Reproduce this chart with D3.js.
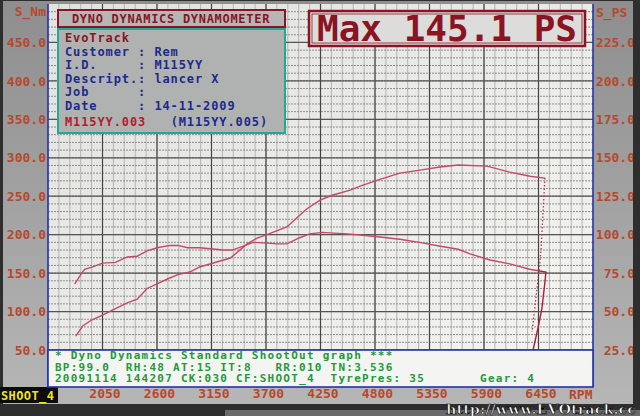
<!DOCTYPE html>
<html>
<head>
<meta charset="utf-8">
<script src="https://cdn.jsdelivr.net/npm/d3@7"></script>
<style>
  body { margin: 0; background: #333; }
  svg { display: block; }
  .mono { font-family: "DejaVu Sans Mono", monospace; font-weight: bold; }
</style>
</head>
<body>
<svg id="chart" width="640" height="416"></svg>
<script>
// values read from the dyno sheet
const rpmTicks = [2050, 2600, 3150, 3700, 4250, 4800, 5350, 5900, 6450];
const nmTicks = [50, 100, 150, 200, 250, 300, 350, 400, 450];
const psTicks = [25, 50, 75, 100, 125, 150, 175, 200, 225];

const torqueRpm = [1770, 1840, 1870, 1950, 2050, 2180, 2300, 2400, 2500, 2600, 2730, 2810, 2910, 3030, 3270, 3360, 3470, 3570, 3710, 3810, 3910, 4040, 4140, 4270, 4380, 4520, 4650, 4850, 5050, 5250, 5460, 5640, 5760, 5960, 6160, 6360, 6450];
const torqueNm = [136, 150, 155, 158, 163, 164, 171, 172, 179, 183, 186, 186, 183, 183, 180, 180, 185, 190, 189, 188, 188, 196, 201, 203, 202, 201, 199.5, 197, 194, 190, 185, 181, 175, 167, 162, 155, 153];

const powerRpm = [1780, 1850, 1940, 2055, 2150, 2300, 2400, 2500, 2600, 2700, 2810, 2930, 3030, 3340, 3510, 3610, 3710, 3910, 4010, 4110, 4245, 4375, 4550, 4650, 4850, 5050, 5255, 5455, 5640, 5930, 6160, 6365, 6515];
const powerPs = [34, 40.6, 44.5, 47.8, 51, 55.6, 58, 65, 68, 71, 74, 75.7, 79, 84.8, 94, 97.8, 100, 105, 110.8, 116.7, 122.5, 125.8, 129, 131.6, 136, 140, 142, 144, 145.3, 144.6, 140.7, 138, 136.8];

// run-down traces at the end of the pull
const torqueDownRpm = [6450, 6525, 6515, 6485, 6445, 6395];
const torqueDownNm = [153, 151.4, 138.4, 104.6, 78.6, 50];
const powerDownRpm = [6515, 6475, 6455, 6385];
const powerDownPs = [136.8, 90, 76.4, 36.7];

const infoLines = [
  ["EvoTrack", ""],
  ["Customer : ", "Rem"],
  ["I.D.     : ", "M115YY"],
  ["Descript.: ", "lancer X"],
  ["Job      : ", ""],
  ["Date     : ", "14-11-2009"]
];
const footLines = [
  "* Dyno Dynamics Standard ShootOut graph ***",
  "BP:99.0  RH:48 AT:15 IT:8   RR:010 TN:3.536",
  "20091114 144207 CK:030 CF:SHOOT_4  TyrePres: 35       Gear: 4"
];

// keep runs of spaces in svg text
const nb = s => s.replace(/ /g, '\u00a0');

const svg = d3.select('#chart');
const L = 48, R = 593, T = 4, B = 350;

const x = d3.scaleLinear().domain([1500, 7000]).range([L, R]);
const yNm = d3.scaleLinear().domain([50, 500]).range([B, T]);
const yPs = d3.scaleLinear().domain([25, 250]).range([B, T]);

const defs = svg.append('defs');
const grad = defs.append('linearGradient').attr('id', 'panel').attr('x1', 0).attr('y1', 0).attr('x2', 0).attr('y2', 1);
grad.append('stop').attr('offset', '0%').attr('stop-color', '#8e8e8e');
grad.append('stop').attr('offset', '100%').attr('stop-color', '#b6b6b6');
const pg = defs.append('linearGradient').attr('id', 'plotbg').attr('x1', 0).attr('y1', 0).attr('x2', 1).attr('y2', 1);
pg.append('stop').attr('offset', '0%').attr('stop-color', '#e2e2de');
pg.append('stop').attr('offset', '100%').attr('stop-color', '#f4f4f0');
defs.append('clipPath').attr('id', 'plotclip').append('rect')
  .attr('x', L).attr('y', T).attr('width', R - L).attr('height', B - T);
defs.append('clipPath').attr('id', 'screenclip').append('rect')
  .attr('x', 0).attr('y', 0).attr('width', 633).attr('height', 416);

// bezel + screen
svg.append('rect').attr('width', 640).attr('height', 416).attr('fill', '#2e2e2e');
svg.append('rect').attr('x', 3).attr('y', 1).attr('width', 630).attr('height', 403).attr('fill', 'url(#panel)');
svg.append('rect').attr('x', 225).attr('y', 410).attr('width', 415).attr('height', 6).attr('fill', '#6a6a6a');

// plot background
svg.append('rect').attr('x', L).attr('y', T).attr('width', R - L).attr('height', B - T + 37)
  .attr('fill', 'url(#plotbg)');

const grid = svg.append('g').attr('clip-path', 'url(#plotclip)');
grid.selectAll('.vminor').data(d3.range(1500, 7000, 110)).enter().append('line')
  .attr('x1', d => x(d)).attr('x2', d => x(d)).attr('y1', T).attr('y2', B)
  .attr('stroke', '#b4b4b4').attr('stroke-width', 1);
grid.selectAll('.hminor').data(d3.range(50, 500, 10)).enter().append('line')
  .attr('y1', d => yNm(d)).attr('y2', d => yNm(d)).attr('x1', L).attr('x2', R)
  .attr('stroke', '#8c8c8c').attr('stroke-width', 1).attr('stroke-dasharray', '2,1');
grid.selectAll('.vmajor').data(rpmTicks).enter().append('line')
  .attr('x1', d => x(d)).attr('x2', d => x(d)).attr('y1', T).attr('y2', B)
  .attr('stroke', '#444').attr('stroke-width', 1.2);
grid.selectAll('.hmajor').data(nmTicks).enter().append('line')
  .attr('y1', d => yNm(d)).attr('y2', d => yNm(d)).attr('x1', L).attr('x2', R)
  .attr('stroke', '#555').attr('stroke-width', 1.2);

// curves
const curves = svg.append('g').attr('clip-path', 'url(#plotclip)');
const lineNm = d3.line().x(d => x(d[0])).y(d => yNm(d[1]));
const linePs = d3.line().x(d => x(d[0])).y(d => yPs(d[1]));
const lc = '#c24a68';
curves.append('path').attr('d', lineNm(d3.zip(torqueRpm, torqueNm)))
  .attr('fill', 'none').attr('stroke', lc).attr('stroke-width', 1.4);
curves.append('path').attr('d', linePs(d3.zip(powerRpm, powerPs)))
  .attr('fill', 'none').attr('stroke', lc).attr('stroke-width', 1.4);
curves.append('path').attr('d', lineNm(d3.zip(torqueDownRpm, torqueDownNm)))
  .attr('fill', 'none').attr('stroke', '#a8203c').attr('stroke-width', 1.4);
curves.append('path').attr('d', linePs(d3.zip(powerDownRpm, powerDownPs)))
  .attr('fill', 'none').attr('stroke', '#b8304c').attr('stroke-width', 1.3).attr('stroke-dasharray', '1.5,2');

// frame lines
svg.append('line').attr('x1', L).attr('x2', L).attr('y1', T).attr('y2', 387).attr('stroke', '#2233aa').attr('stroke-width', 1.6);
svg.append('line').attr('x1', R).attr('x2', R).attr('y1', T).attr('y2', 387).attr('stroke', '#2233aa').attr('stroke-width', 1.6);

// axes
const tickColor = '#b8482c';
function styleAxis(g) {
  g.select('.domain').remove();
  g.selectAll('text').attr('class', 'mono').attr('fill', tickColor).style('font-size', '13px');
}
svg.append('g').attr('transform', `translate(${L},0)`)
  .call(d3.axisLeft(yNm).tickValues(nmTicks).tickFormat(d3.format('.1f')).tickSize(0).tickPadding(2))
  .call(styleAxis);
svg.append('g').attr('clip-path', 'url(#screenclip)').append('g').attr('transform', 'translate(637,0)')
  .call(d3.axisLeft(yPs).tickValues(psTicks).tickFormat(d3.format('.1f')).tickSize(0).tickPadding(2))
  .call(styleAxis);
svg.append('g').attr('transform', 'translate(2,388)')
  .call(d3.axisBottom(x).tickValues(rpmTicks).tickFormat(d3.format('d')).tickSize(0).tickPadding(1))
  .call(styleAxis);

svg.append('text').attr('class', 'mono').attr('x', 46).attr('y', 16).attr('text-anchor', 'end')
  .attr('fill', tickColor).style('font-size', '13px').text('S_Nm');
svg.append('text').attr('class', 'mono').attr('x', 596).attr('y', 17)
  .attr('fill', tickColor).style('font-size', '13px').text('S_PS');
svg.append('text').attr('class', 'mono').attr('x', 569).attr('y', 398.5)
  .attr('fill', tickColor).style('font-size', '13px').text('RPM');

// SHOOT_4 tag
svg.append('rect').attr('x', 0).attr('y', 387).attr('width', 58).attr('height', 16).attr('fill', '#0c0c0c');
svg.append('text').attr('class', 'mono').attr('x', 1).attr('y', 400).attr('fill', '#f2e22a')
  .style('font-size', '12px').style('letter-spacing', '0.4px').text('SHOOT_4');

// footer box
svg.append('rect').attr('x', L).attr('y', B).attr('width', R - L).attr('height', 37)
  .attr('fill', '#f4f4f2').attr('stroke', '#2233aa').attr('stroke-width', 1.6);
svg.selectAll('.foot').data(footLines).enter().append('text')
  .attr('class', 'mono').attr('x', 55).attr('y', (d, i) => 359 + i * 11.5)
  .attr('fill', '#1f9a3a').style('font-size', '11px').style('letter-spacing', '1.25px')
  .text(d => nb(d));

// title box
svg.append('rect').attr('x', 58).attr('y', 10).attr('width', 227).attr('height', 17)
  .attr('fill', '#b6b6b6').attr('stroke', '#8a1424').attr('stroke-width', 2);
svg.append('text').attr('class', 'mono').attr('x', 171).attr('y', 23).attr('text-anchor', 'middle')
  .attr('fill', '#8a1424').style('font-size', '12px').style('letter-spacing', '0.7px')
  .text('DYNO DYNAMICS DYNAMOMETER');

// info box
svg.append('rect').attr('x', 58).attr('y', 29).attr('width', 227).attr('height', 104)
  .attr('fill', '#b0b2b2').attr('stroke', '#22a898').attr('stroke-width', 2);
const info = svg.append('g').attr('class', 'mono').style('font-size', '12px')
  .style('letter-spacing', '0.9px');
infoLines.forEach((ln, i) => {
  const t = info.append('text').attr('x', 65).attr('y', 42 + i * 13.5);
  if (i === 0) {
    t.attr('fill', '#8a1424').text(ln[0]);
  } else {
    t.attr('fill', '#1c2a8c');
    t.append('tspan').text(nb(ln[0]));
    t.append('tspan').text(nb(ln[1]));
  }
});
const last = info.append('text').attr('x', 65).attr('y', 126);
last.append('tspan').attr('fill', '#b01e2c').text(nb('M115YY.003   '));
last.append('tspan').attr('fill', '#1c2a8c').text('(M115YY.005)');

// max box
svg.append('rect').attr('x', 309).attr('y', 11).attr('width', 276).attr('height', 35)
  .attr('fill', '#dcdcda').attr('stroke', '#8a1424').attr('stroke-width', 2.5);
svg.append('rect').attr('x', 312).attr('y', 14).attr('width', 270).attr('height', 29)
  .attr('fill', 'none').attr('stroke', '#8a1424').attr('stroke-width', 0.8);
svg.append('text').attr('class', 'mono').attr('x', 447).attr('y', 41).attr('text-anchor', 'middle')
  .attr('fill', '#8a1424').style('font-size', '36px').text('Max 145.1 PS');

// watermark
svg.append('text').attr('x', 446).attr('y', 414)
  .attr('textLength', 190).attr('lengthAdjust', 'spacingAndGlyphs')
  .style('font-family', '"DejaVu Serif", serif').style('font-weight', 'bold').style('font-size', '13px')
  .attr('fill', '#fff').attr('stroke', '#000').attr('stroke-width', 0.6)
  .text('http://www.EVOtrack.cc');
</script>
</body>
</html>
